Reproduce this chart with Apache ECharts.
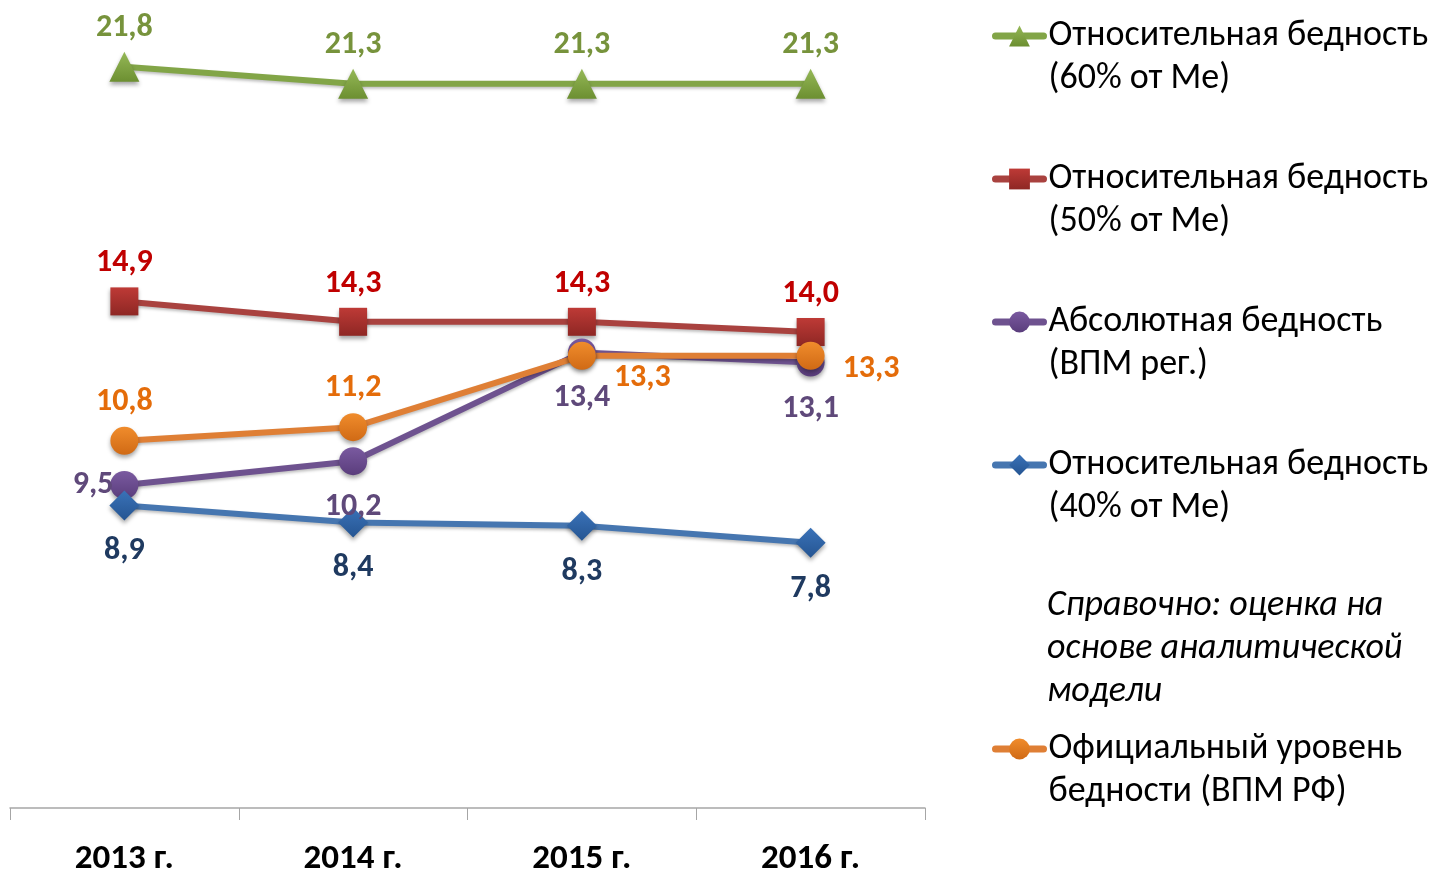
<!DOCTYPE html>
<html lang="ru">
<head>
    <meta charset="UTF-8">
    <title>Бедность</title>
    <script src="https://cdn.jsdelivr.net/npm/echarts@6/dist/echarts.min.js"></script>
    <style>
        body{ margin:0; background:#fff; }
        #main{ width:1429px; height:871px; }
    </style>
</head>
<body>
<div id="main"></div>
<script type="text/javascript">
    var years = ['2013 г.', '2014 г.', '2015 г.', '2016 г.'];
    var rel60 = [21.8, 21.3, 21.3, 21.3];
    var rel50 = [14.9, 14.3, 14.3, 14.0];
    var absReg = [9.5, 10.2, 13.4, 13.1];
    var rel40 = [8.9, 8.4, 8.3, 7.8];
    var official = [10.8, 11.2, 13.3, 13.3];

    var names = [
        'Относительная бедность\n(60% от Me)',
        'Относительная бедность\n(50% от Me)',
        'Абсолютная бедность\n(ВПМ рег.)',
        'Относительная бедность\n(40% от Me)',
        'Официальный уровень\nбедности (ВПМ РФ)'
    ];
    var note = 'Справочно: оценка на\nоснове аналитической\nмодели';

    var font = 'Carlito, Calibri, "Open Sans", sans-serif';
    var myChart = echarts.init(document.getElementById('main'));

    function fmt(p) {
        return p.value.toFixed(1).replace('.', ',');
    }
    function grad(top, bottom) {
        return new echarts.graphic.LinearGradient(0, 0, 0, 1, [
            {offset: 0, color: top}, {offset: 1, color: bottom}
        ]);
    }
    function lineSeries(name, values, symbol, size, lineColor, markTop, markBottom, labelColor, pos, dist, extra) {
        return {
            name: name,
            type: 'line',
            symbol: symbol,
            symbolSize: size,
            data: values.map(function (v, i) {
                var item = {value: v};
                if (extra && extra[i]) item.label = extra[i];
                return item;
            }),
            lineStyle: {color: lineColor, width: 6, shadowColor: 'rgba(0,0,0,0.25)', shadowBlur: 3, shadowOffsetY: 2},
            itemStyle: {color: grad(markTop, markBottom), borderWidth: 0,
                shadowColor: 'rgba(0,0,0,0.35)', shadowBlur: 4, shadowOffsetY: 3},
            label: {
                show: true, position: pos, distance: dist, formatter: fmt,
                color: labelColor, fontFamily: font, fontWeight: 'bold', fontSize: 32
            },
            emphasis: {disabled: true}
        };
    }
    // blank first line so the icon sits next to the first line of text
    var legendBase = {
        orient: 'vertical',
        left: 992,
        padding: 0,
        itemWidth: 48, itemHeight: 26, itemGap: 14,
        selectedMode: false,
        lineStyle: {width: 7, cap: 'round'},
        formatter: function (n) { return '\n' + n; },
        textStyle: {fontFamily: font, fontSize: 36, lineHeight: 43, color: '#000'}
    };

    var option = {
        backgroundColor: '#ffffff',
        animation: false,
        color: ['#7FA33F', '#B5403D', '#6E5192', '#3F72B0', '#E5801F'],
        grid: {left: 10, right: 504, top: 9, bottom: 63, outerBoundsMode: 'none', containLabel: false},
        xAxis: {
            type: 'category',
            data: years,
            axisLine: {lineStyle: {color: '#A6A6A6', width: 1.5}},
            axisTick: {show: true, length: 12, lineStyle: {color: '#A6A6A6'}},
            axisLabel: {color: '#000', fontFamily: font, fontWeight: 'bold', fontSize: 35, margin: 34}
        },
        yAxis: {
            type: 'value', min: 0, max: 23.5, show: false,
            splitLine: {show: false}
        },
        legend: [
            Object.assign({}, legendBase, {data: names.slice(0, 4), top: -28.5}),
            Object.assign({}, legendBase, {data: names.slice(4), top: 684.5})
        ],
        graphic: [{
            type: 'text',
            left: 1047, top: 584,
            style: {text: note, fontFamily: font, fontStyle: 'italic', fontSize: 36, lineHeight: 43, fill: '#000'}
        }],
        series: [
            lineSeries(names[0], rel60, 'triangle', 30, '#82A547', '#95B857', '#6C8F31', '#77933C', 'top', 8),
            lineSeries(names[1], rel50, 'rect', 28, '#A9423F', '#BE3A36', '#8E2724', '#C00000', 'top', 8),
            lineSeries(names[2], absReg, 'circle', 28, '#6E528F', '#7A5AA0', '#5A3D7C', '#5F497A', 'bottom', 16,
                [{position: 'left', distance: -3}]),
            lineSeries(names[3], rel40, 'diamond', 30, '#4676B0', '#3A72B8', '#255592', '#1F3A60', 'bottom', 15),
            lineSeries(names[4], official, 'circle', 28, '#DF7F35', '#F08C2C', '#D06A15', '#E46C0A', 'top', 9,
                [null, null, {position: 'right', distance: 18, offset: [0, 22]}, {position: 'right', distance: 18, offset: [0, 13]}])
        ]
    };
    myChart.setOption(option);
</script>
</body>
</html>
